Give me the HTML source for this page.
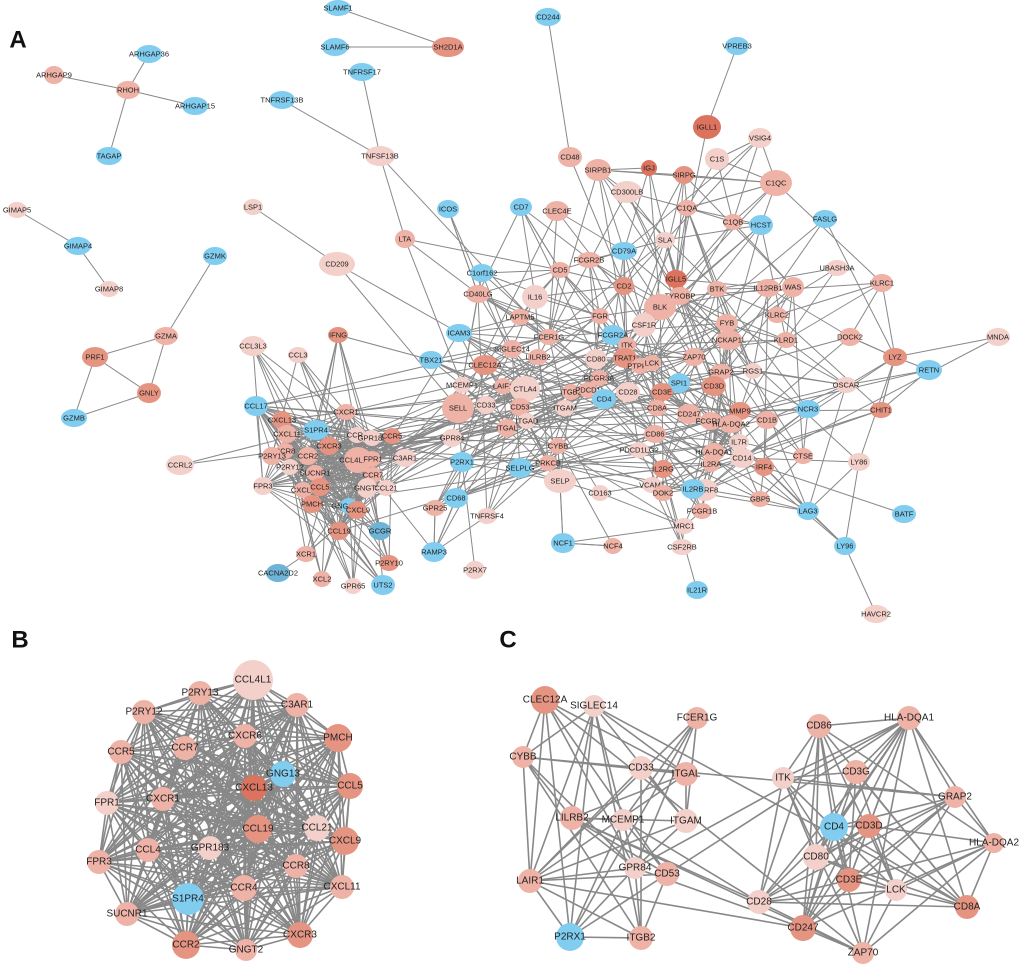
<!DOCTYPE html>
<html><head><meta charset="utf-8"><style>
body{margin:0;background:#fff}
svg{display:block}
text{font-family:"Liberation Sans",sans-serif;text-anchor:middle;dominant-baseline:central;fill:#222}
#A text{font-size:7.5px}
#B text,#C text{font-size:10px}
.l{fill:#f3d0c9}.p{fill:#eeb2a6}.m{fill:#e69482}.d{fill:#dc735f}.b{fill:#80cdf0}.g{fill:#6fb3d6}
.big{font-size:24px;font-weight:bold;fill:#111}
</style></head><body>
<svg width="1020" height="968" viewBox="0 0 1020 968" xmlns="http://www.w3.org/2000/svg">
<g id="edges" stroke="#888" fill="none"></g>
<text x="18" y="40" class="big">A</text>
<text x="20" y="640" class="big">B</text>
<text x="508" y="640" class="big">C</text>
<g id="A">
<g><ellipse cx="128" cy="90" rx="12" ry="9" class="p"/><text x="128" y="90">RHOH</text></g>
<g><ellipse cx="149" cy="54" rx="13" ry="9" class="b"/><text x="149" y="54">ARHGAP36</text></g>
<g><ellipse cx="54" cy="75" rx="10" ry="9" class="p"/><text x="54" y="75">ARHGAP9</text></g>
<g><ellipse cx="195" cy="106" rx="13" ry="9" class="b"/><text x="195" y="106">ARHGAP15</text></g>
<g><ellipse cx="109" cy="156" rx="13" ry="9" class="b"/><text x="109" y="156">TAGAP</text></g>
<g><ellipse cx="17" cy="210" rx="10" ry="8" class="l"/><text x="17" y="210">GIMAP5</text></g>
<g><ellipse cx="78" cy="246" rx="13" ry="9" class="b"/><text x="78" y="246">GIMAP4</text></g>
<g><ellipse cx="109" cy="289" rx="10" ry="8" class="l"/><text x="109" y="289">GIMAP8</text></g>
<g><ellipse cx="215" cy="256" rx="12" ry="9" class="b"/><text x="215" y="256">GZMK</text></g>
<g><ellipse cx="166" cy="336" rx="12" ry="9" class="p"/><text x="166" y="336">GZMA</text></g>
<g><ellipse cx="95" cy="357" rx="13" ry="10" class="m"/><text x="95" y="357">PRF1</text></g>
<g><ellipse cx="149" cy="393" rx="12" ry="10" class="m"/><text x="149" y="393">GNLY</text></g>
<g><ellipse cx="74" cy="418" rx="13" ry="9" class="b"/><text x="74" y="418">GZMB</text></g>
<g><ellipse cx="338" cy="8" rx="13" ry="8" class="b"/><text x="338" y="8">SLAMF1</text></g>
<g><ellipse cx="335" cy="47" rx="13" ry="9" class="b"/><text x="335" y="47">SLAMF6</text></g>
<g><ellipse cx="448" cy="47" rx="16" ry="10" class="m"/><text x="448" y="47">SH2D1A</text></g>
<g><ellipse cx="548" cy="17" rx="13" ry="9" class="b"/><text x="548" y="17">CD244</text></g>
<g><ellipse cx="362" cy="72" rx="13" ry="9" class="b"/><text x="362" y="72">TNFRSF17</text></g>
<g><ellipse cx="282" cy="100" rx="13" ry="9" class="b"/><text x="282" y="100">TNFRSF13B</text></g>
<g><ellipse cx="380" cy="156" rx="15" ry="10" class="l"/><text x="380" y="156">TNFSF13B</text></g>
<g><ellipse cx="253" cy="207" rx="10" ry="8" class="l"/><text x="253" y="207">LSP1</text></g>
<g><ellipse cx="405" cy="239" rx="10" ry="9" class="p"/><text x="405" y="239">LTA</text></g>
<g><ellipse cx="337" cy="264" rx="18" ry="12" class="l"/><text x="337" y="264">CD209</text></g>
<g><ellipse cx="448" cy="209" rx="11" ry="9" class="b"/><text x="448" y="209">ICOS</text></g>
<g><ellipse cx="482" cy="273" rx="12" ry="9" class="b"/><text x="482" y="273">C1orf162</text></g>
<g><ellipse cx="478" cy="294" rx="12" ry="9" class="p"/><text x="478" y="294">CD40LG</text></g>
<g><ellipse cx="459" cy="333" rx="13" ry="9" class="b"/><text x="459" y="333">ICAM3</text></g>
<g><ellipse cx="431" cy="360" rx="12" ry="9" class="b"/><text x="431" y="360">TBX21</text></g>
<g><ellipse cx="521" cy="207" rx="11" ry="9" class="b"/><text x="521" y="207">CD7</text></g>
<g><ellipse cx="557" cy="211" rx="12" ry="10" class="p"/><text x="557" y="211">CLEC4E</text></g>
<g><ellipse cx="737" cy="46" rx="12" ry="9" class="b"/><text x="737" y="46">VPREB3</text></g>
<g><ellipse cx="707" cy="127" rx="14" ry="12" class="d"/><text x="707" y="127">IGLL1</text></g>
<g><ellipse cx="570" cy="157" rx="12" ry="10" class="p"/><text x="570" y="157">CD48</text></g>
<g><ellipse cx="598" cy="170" rx="13" ry="11" class="p"/><text x="598" y="170">SIRPB1</text></g>
<g><ellipse cx="649" cy="168" rx="8" ry="8" class="d"/><text x="649" y="168">IGJ</text></g>
<g><ellipse cx="684" cy="175" rx="10" ry="9" class="m"/><text x="684" y="175">SIRPG</text></g>
<g><ellipse cx="717" cy="159" rx="12" ry="11" class="l"/><text x="717" y="159">C1S</text></g>
<g><ellipse cx="760" cy="138" rx="12" ry="10" class="l"/><text x="760" y="138">VSIG4</text></g>
<g><ellipse cx="776" cy="183" rx="16" ry="13" class="p"/><text x="776" y="183">C1QC</text></g>
<g><ellipse cx="627" cy="192" rx="15" ry="11" class="l"/><text x="627" y="192">CD300LB</text></g>
<g><ellipse cx="687" cy="208" rx="10" ry="8" class="p"/><text x="687" y="208">C1QA</text></g>
<g><ellipse cx="733" cy="222" rx="10" ry="8" class="p"/><text x="733" y="222">C1QB</text></g>
<g><ellipse cx="761" cy="225" rx="12" ry="10" class="b"/><text x="761" y="225">HCST</text></g>
<g><ellipse cx="825" cy="219" rx="12" ry="9" class="b"/><text x="825" y="219">FASLG</text></g>
<g><ellipse cx="665" cy="240" rx="10" ry="8" class="l"/><text x="665" y="240">SLA</text></g>
<g><ellipse cx="624" cy="251" rx="13" ry="9" class="b"/><text x="624" y="251">CD79A</text></g>
<g><ellipse cx="589" cy="260" rx="12" ry="8" class="p"/><text x="589" y="260">FCGR2B</text></g>
<g><ellipse cx="560" cy="270" rx="10" ry="8" class="p"/><text x="560" y="270">CD5</text></g>
<g><ellipse cx="535" cy="297" rx="13" ry="12" class="l"/><text x="535" y="297">IL16</text></g>
<g><ellipse cx="624" cy="286" rx="10" ry="9" class="m"/><text x="624" y="286">CD2</text></g>
<g><ellipse cx="676" cy="279" rx="11" ry="9" class="d"/><text x="676" y="279">IGLL5</text></g>
<g><ellipse cx="680" cy="296" rx="11" ry="9" class="p"/><text x="680" y="296">TYROBP</text></g>
<g><ellipse cx="660" cy="307" rx="16" ry="13" class="p"/><text x="660" y="307">BLK</text></g>
<g><ellipse cx="717" cy="289" rx="10" ry="8" class="p"/><text x="717" y="289">BTK</text></g>
<g><ellipse cx="768" cy="288" rx="12" ry="9" class="p"/><text x="768" y="288">IL12RB1</text></g>
<g><ellipse cx="793" cy="287" rx="11" ry="10" class="p"/><text x="793" y="287">WAS</text></g>
<g><ellipse cx="837" cy="268" rx="11" ry="8" class="l"/><text x="837" y="268">UBASH3A</text></g>
<g><ellipse cx="882" cy="283" rx="11" ry="9" class="p"/><text x="882" y="283">KLRC1</text></g>
<g><ellipse cx="727" cy="323" rx="11" ry="9" class="p"/><text x="727" y="323">FYB</text></g>
<g><ellipse cx="777" cy="315" rx="10" ry="8" class="p"/><text x="777" y="315">KLRC2</text></g>
<g><ellipse cx="729" cy="340" rx="13" ry="10" class="p"/><text x="729" y="340">NCKAP1L</text></g>
<g><ellipse cx="786" cy="340" rx="10" ry="8" class="p"/><text x="786" y="340">KLRD1</text></g>
<g><ellipse cx="850" cy="337" rx="11" ry="9" class="p"/><text x="850" y="337">DOCK2</text></g>
<g><ellipse cx="998" cy="337" rx="12" ry="9" class="l"/><text x="998" y="337">MNDA</text></g>
<g><ellipse cx="895" cy="357" rx="12" ry="9" class="m"/><text x="895" y="357">LYZ</text></g>
<g><ellipse cx="929" cy="370" rx="13" ry="10" class="b"/><text x="929" y="370">RETN</text></g>
<g><ellipse cx="846" cy="385" rx="11" ry="8" class="l"/><text x="846" y="385">OSCAR</text></g>
<g><ellipse cx="881" cy="410" rx="11" ry="8" class="m"/><text x="881" y="410">CHIT1</text></g>
<g><ellipse cx="767" cy="420" rx="11" ry="9" class="p"/><text x="767" y="420">CD1B</text></g>
<g><ellipse cx="808" cy="409" rx="12" ry="9" class="b"/><text x="808" y="409">NCR3</text></g>
<g><ellipse cx="740" cy="411" rx="11" ry="9" class="m"/><text x="740" y="411">MMP9</text></g>
<g><ellipse cx="803" cy="456" rx="10" ry="8" class="p"/><text x="803" y="456">CTSE</text></g>
<g><ellipse cx="739" cy="442" rx="10" ry="8" class="l"/><text x="739" y="442">IL7R</text></g>
<g><ellipse cx="742" cy="458" rx="12" ry="10" class="l"/><text x="742" y="458">CD14</text></g>
<g><ellipse cx="764" cy="467" rx="10" ry="9" class="m"/><text x="764" y="467">IRF4</text></g>
<g><ellipse cx="760" cy="499" rx="10" ry="8" class="p"/><text x="760" y="499">GBP5</text></g>
<g><ellipse cx="859" cy="462" rx="11" ry="9" class="l"/><text x="859" y="462">LY86</text></g>
<g><ellipse cx="808" cy="511" rx="11" ry="9" class="b"/><text x="808" y="511">LAG3</text></g>
<g><ellipse cx="904" cy="514" rx="12" ry="9" class="b"/><text x="904" y="514">BATF</text></g>
<g><ellipse cx="845" cy="546" rx="11" ry="9" class="b"/><text x="845" y="546">LY96</text></g>
<g><ellipse cx="876" cy="614" rx="13" ry="9" class="l"/><text x="876" y="614">HAVCR2</text></g>
<g><ellipse cx="520" cy="317" rx="10" ry="8" class="p"/><text x="520" y="317">LAPTM5</text></g>
<g><ellipse cx="600" cy="316" rx="9" ry="8" class="p"/><text x="600" y="316">FGR</text></g>
<g><ellipse cx="644" cy="325" rx="12" ry="12" class="l"/><text x="644" y="325">CSF1R</text></g>
<g><ellipse cx="613" cy="335" rx="12" ry="10" class="b"/><text x="613" y="335">FCGR2A</text></g>
<g><ellipse cx="549" cy="337" rx="10" ry="8" class="p"/><text x="549" y="337">FCER1G</text></g>
<g><ellipse cx="627" cy="345" rx="9" ry="8" class="p"/><text x="627" y="345">ITK</text></g>
<g><ellipse cx="512" cy="349" rx="10" ry="9" class="p"/><text x="512" y="349">SIGLEC14</text></g>
<g><ellipse cx="538" cy="357" rx="10" ry="8" class="p"/><text x="538" y="357">LILRB2</text></g>
<g><ellipse cx="485" cy="365" rx="13" ry="10" class="m"/><text x="485" y="365">CLEC12A</text></g>
<g><ellipse cx="625" cy="358" rx="12" ry="10" class="m"/><text x="625" y="358">TRAT1</text></g>
<g><ellipse cx="596" cy="359" rx="11" ry="10" class="l"/><text x="596" y="359">CD80</text></g>
<g><ellipse cx="694" cy="357" rx="11" ry="9" class="p"/><text x="694" y="357">ZAP70</text></g>
<g><ellipse cx="640" cy="366" rx="9" ry="8" class="p"/><text x="640" y="366">PTPRC</text></g>
<g><ellipse cx="652" cy="363" rx="9" ry="8" class="p"/><text x="652" y="363">LCK</text></g>
<g><ellipse cx="721" cy="372" rx="11" ry="8" class="p"/><text x="721" y="372">GRAP2</text></g>
<g><ellipse cx="753" cy="371" rx="9" ry="8" class="l"/><text x="753" y="371">RGS1</text></g>
<g><ellipse cx="679" cy="383" rx="11" ry="10" class="b"/><text x="679" y="383">SPI1</text></g>
<g><ellipse cx="714" cy="386" rx="12" ry="10" class="m"/><text x="714" y="386">CD3D</text></g>
<g><ellipse cx="462" cy="385" rx="9" ry="8" class="l"/><text x="462" y="385">MCEMP1</text></g>
<g><ellipse cx="503" cy="386" rx="9" ry="8" class="p"/><text x="503" y="386">LAIF1</text></g>
<g><ellipse cx="525" cy="389" rx="15" ry="13" class="l"/><text x="525" y="389">CTLA4</text></g>
<g><ellipse cx="599" cy="378" rx="9" ry="8" class="p"/><text x="599" y="378">FCGR3A</text></g>
<g><ellipse cx="571" cy="392" rx="9" ry="8" class="p"/><text x="571" y="392">ITGB2</text></g>
<g><ellipse cx="588" cy="390" rx="9" ry="8" class="p"/><text x="588" y="390">PDCD1</text></g>
<g><ellipse cx="628" cy="392" rx="12" ry="10" class="l"/><text x="628" y="392">CD28</text></g>
<g><ellipse cx="662" cy="392" rx="11" ry="9" class="m"/><text x="662" y="392">CD3E</text></g>
<g><ellipse cx="604" cy="399" rx="12" ry="10" class="b"/><text x="604" y="399">CD4</text></g>
<g><ellipse cx="458" cy="408" rx="16" ry="15" class="p"/><text x="458" y="408">SELL</text></g>
<g><ellipse cx="486" cy="405" rx="10" ry="9" class="l"/><text x="486" y="405">CD33</text></g>
<g><ellipse cx="520" cy="407" rx="10" ry="9" class="p"/><text x="520" y="407">CD53</text></g>
<g><ellipse cx="565" cy="408" rx="10" ry="8" class="l"/><text x="565" y="408">ITGAM</text></g>
<g><ellipse cx="657" cy="408" rx="10" ry="8" class="p"/><text x="657" y="408">CD8A</text></g>
<g><ellipse cx="689" cy="414" rx="12" ry="10" class="p"/><text x="689" y="414">CD247</text></g>
<g><ellipse cx="711" cy="421" rx="11" ry="9" class="p"/><text x="711" y="421">FCGR1A</text></g>
<g><ellipse cx="731" cy="424" rx="12" ry="9" class="p"/><text x="731" y="424">HLA-DQA2</text></g>
<g><ellipse cx="527" cy="421" rx="9" ry="8" class="l"/><text x="527" y="421">ITGAD</text></g>
<g><ellipse cx="507" cy="428" rx="10" ry="9" class="p"/><text x="507" y="428">ITGAL</text></g>
<g><ellipse cx="655" cy="434" rx="11" ry="9" class="p"/><text x="655" y="434">CD86</text></g>
<g><ellipse cx="452" cy="438" rx="10" ry="9" class="l"/><text x="452" y="438">GPR84</text></g>
<g><ellipse cx="462" cy="462" rx="12" ry="10" class="b"/><text x="462" y="462">P2RX1</text></g>
<g><ellipse cx="639" cy="450" rx="10" ry="8" class="l"/><text x="639" y="450">PDCD1LG2</text></g>
<g><ellipse cx="714" cy="452" rx="11" ry="9" class="p"/><text x="714" y="452">HLA-DQA1</text></g>
<g><ellipse cx="711" cy="464" rx="9" ry="8" class="p"/><text x="711" y="464">IL2RA</text></g>
<g><ellipse cx="558" cy="446" rx="9" ry="8" class="p"/><text x="558" y="446">CYBB</text></g>
<g><ellipse cx="520" cy="468" rx="12" ry="10" class="b"/><text x="520" y="468">SELPLG</text></g>
<g><ellipse cx="548" cy="463" rx="9" ry="8" class="p"/><text x="548" y="463">PRKCB</text></g>
<g><ellipse cx="560" cy="481" rx="16" ry="12" class="l"/><text x="560" y="481">SELP</text></g>
<g><ellipse cx="663" cy="469" rx="10" ry="9" class="m"/><text x="663" y="469">IL2RG</text></g>
<g><ellipse cx="652" cy="485" rx="10" ry="8" class="l"/><text x="652" y="485">VCAM1</text></g>
<g><ellipse cx="600" cy="493" rx="9" ry="8" class="l"/><text x="600" y="493">CD163</text></g>
<g><ellipse cx="705" cy="490" rx="13" ry="11" class="l"/><text x="710" y="490">IRF8</text></g>
<g><ellipse cx="693" cy="489" rx="12" ry="10" class="b"/><text x="693" y="489">IL2RB</text></g>
<g><ellipse cx="663" cy="493" rx="10" ry="8" class="p"/><text x="663" y="493">DOK2</text></g>
<g><ellipse cx="702" cy="511" rx="10" ry="8" class="p"/><text x="702" y="511">FCGR1B</text></g>
<g><ellipse cx="684" cy="526" rx="10" ry="8" class="l"/><text x="684" y="526">MRC1</text></g>
<g><ellipse cx="682" cy="547" rx="11" ry="8" class="l"/><text x="682" y="547">CSF2RB</text></g>
<g><ellipse cx="563" cy="543" rx="12" ry="10" class="b"/><text x="563" y="543">NCF1</text></g>
<g><ellipse cx="613" cy="546" rx="9" ry="8" class="p"/><text x="613" y="546">NCF4</text></g>
<g><ellipse cx="697" cy="590" rx="11" ry="9" class="b"/><text x="697" y="590">IL21R</text></g>
<g><ellipse cx="456" cy="498" rx="12" ry="10" class="b"/><text x="456" y="498">CD68</text></g>
<g><ellipse cx="487" cy="516" rx="10" ry="8" class="l"/><text x="487" y="516">TNFRSF4</text></g>
<g><ellipse cx="435" cy="508" rx="10" ry="8" class="p"/><text x="435" y="508">GPR25</text></g>
<g><ellipse cx="434" cy="552" rx="12" ry="10" class="b"/><text x="434" y="552">RAMP3</text></g>
<g><ellipse cx="475" cy="570" rx="10" ry="9" class="l"/><text x="475" y="570">P2RX7</text></g>
<g><ellipse cx="253" cy="346" rx="13" ry="10" class="l"/><text x="253" y="346">CCL3L3</text></g>
<g><ellipse cx="298" cy="355" rx="10" ry="8" class="l"/><text x="298" y="355">CCL3</text></g>
<g><ellipse cx="338" cy="335" rx="10" ry="8" class="m"/><text x="338" y="335">IFNG</text></g>
<g><ellipse cx="256" cy="406" rx="12" ry="10" class="b"/><text x="256" y="406">CCL17</text></g>
<g><ellipse cx="282" cy="420" rx="10" ry="9" class="m"/><text x="282" y="420">CXCL13</text></g>
<g><ellipse cx="346" cy="412" rx="10" ry="8" class="p"/><text x="346" y="412">CXCR1</text></g>
<g><ellipse cx="287" cy="434" rx="10" ry="9" class="p"/><text x="287" y="434">CXCL11</text></g>
<g><ellipse cx="316" cy="430" rx="13" ry="10" class="b"/><text x="316" y="430">S1PR4</text></g>
<g><ellipse cx="357" cy="435" rx="9" ry="8" class="l"/><text x="357" y="435">CCR4</text></g>
<g><ellipse cx="372" cy="438" rx="9" ry="8" class="l"/><text x="372" y="438">GPR183</text></g>
<g><ellipse cx="392" cy="436" rx="9" ry="8" class="m"/><text x="392" y="436">CCR5</text></g>
<g><ellipse cx="329" cy="446" rx="10" ry="9" class="m"/><text x="329" y="446">CXCR3</text></g>
<g><ellipse cx="285" cy="451" rx="9" ry="8" class="p"/><text x="285" y="451">CCR8</text></g>
<g><ellipse cx="272" cy="456" rx="10" ry="9" class="p"/><text x="272" y="456">P2RY13</text></g>
<g><ellipse cx="308" cy="456" rx="10" ry="9" class="p"/><text x="308" y="456">CCR2</text></g>
<g><ellipse cx="358" cy="460" rx="14" ry="13" class="p"/><text x="353" y="460">CCL4L1</text></g>
<g><ellipse cx="372" cy="459" rx="9" ry="8" class="p"/><text x="373" y="459">FPR1</text></g>
<g><ellipse cx="405" cy="458" rx="11" ry="9" class="l"/><text x="405" y="458">C3AR1</text></g>
<g><ellipse cx="290" cy="467" rx="9" ry="8" class="l"/><text x="290" y="467">P2RY12</text></g>
<g><ellipse cx="315" cy="473" rx="9" ry="8" class="p"/><text x="315" y="473">SUCNR1</text></g>
<g><ellipse cx="373" cy="475" rx="9" ry="8" class="p"/><text x="373" y="475">CCR7</text></g>
<g><ellipse cx="263" cy="486" rx="10" ry="9" class="l"/><text x="263" y="486">FPR3</text></g>
<g><ellipse cx="303" cy="490" rx="9" ry="8" class="p"/><text x="303" y="490">CXCL4</text></g>
<g><ellipse cx="320" cy="487" rx="10" ry="9" class="m"/><text x="320" y="487">CCL5</text></g>
<g><ellipse cx="367" cy="488" rx="10" ry="10" class="l"/><text x="367" y="488">GNGT2</text></g>
<g><ellipse cx="386" cy="488" rx="9" ry="8" class="l"/><text x="386" y="488">CCL21</text></g>
<g><ellipse cx="312" cy="504" rx="10" ry="9" class="m"/><text x="312" y="504">PMCH</text></g>
<g><ellipse cx="349" cy="506" rx="9" ry="8" class="b"/><text x="344" y="506">GNG13</text></g>
<g><ellipse cx="357" cy="510" rx="10" ry="9" class="m"/><text x="358" y="510">CXCL9</text></g>
<g><ellipse cx="339" cy="531" rx="10" ry="9" class="m"/><text x="339" y="531">CCL19</text></g>
<g><ellipse cx="380" cy="531" rx="11" ry="9" class="g"/><text x="380" y="531">GCGR</text></g>
<g><ellipse cx="306" cy="554" rx="10" ry="8" class="p"/><text x="306" y="554">XCR1</text></g>
<g><ellipse cx="389" cy="563" rx="10" ry="8" class="m"/><text x="389" y="563">P2RY10</text></g>
<g><ellipse cx="278" cy="573" rx="12" ry="9" class="g"/><text x="278" y="573">CACNA2D2</text></g>
<g><ellipse cx="322" cy="579" rx="9" ry="8" class="p"/><text x="322" y="579">XCL2</text></g>
<g><ellipse cx="353" cy="586" rx="9" ry="8" class="l"/><text x="353" y="586">GPR65</text></g>
<g><ellipse cx="383" cy="585" rx="12" ry="10" class="b"/><text x="383" y="585">UTS2</text></g>
<g><ellipse cx="180" cy="465" rx="14" ry="10" class="l"/><text x="180" y="465">CCRL2</text></g>
</g>
<g id="B">
<g><circle cx="253" cy="680" r="20" class="l"/><text x="253" y="680">CCL4L1</text></g>
<g><circle cx="200" cy="693" r="12" class="p"/><text x="200" y="693">P2RY13</text></g>
<g><circle cx="297" cy="705" r="12" class="p"/><text x="297" y="705">C3AR1</text></g>
<g><circle cx="144" cy="712" r="12" class="p"/><text x="144" y="712">P2RY12</text></g>
<g><circle cx="338" cy="738" r="14" class="m"/><text x="338" y="738">PMCH</text></g>
<g><circle cx="245" cy="736" r="12" class="p"/><text x="245" y="736">CXCR6</text></g>
<g><circle cx="185" cy="748" r="12" class="p"/><text x="185" y="748">CCR7</text></g>
<g><circle cx="121" cy="752" r="12" class="p"/><text x="121" y="752">CCR5</text></g>
<g><circle cx="283" cy="774" r="13" class="b"/><text x="283" y="774">GNG13</text></g>
<g><circle cx="350" cy="786" r="13" class="m"/><text x="350" y="786">CCL5</text></g>
<g><circle cx="254" cy="788" r="13" class="d"/><text x="254" y="788">CXCL13</text></g>
<g><circle cx="163" cy="799" r="12" class="p"/><text x="163" y="799">CXCR1</text></g>
<g><circle cx="107" cy="803" r="12" class="l"/><text x="107" y="803">FPR1</text></g>
<g><circle cx="317" cy="828" r="13" class="l"/><text x="317" y="828">CCL21</text></g>
<g><circle cx="345" cy="841" r="14" class="m"/><text x="345" y="841">CXCL9</text></g>
<g><circle cx="258" cy="829" r="14" class="m"/><text x="258" y="829">CCL19</text></g>
<g><circle cx="210" cy="848" r="12" class="l"/><text x="210" y="848">GPR183</text></g>
<g><circle cx="148" cy="850" r="12" class="p"/><text x="148" y="850">CCL4</text></g>
<g><circle cx="99" cy="862" r="12" class="p"/><text x="99" y="862">FPR3</text></g>
<g><circle cx="296" cy="866" r="12" class="p"/><text x="296" y="866">CCR8</text></g>
<g><circle cx="342" cy="887" r="12" class="p"/><text x="342" y="887">CXCL11</text></g>
<g><circle cx="188" cy="899" r="16" class="b"/><text x="188" y="899">S1PR4</text></g>
<g><circle cx="244" cy="888" r="13" class="p"/><text x="244" y="888">CCR4</text></g>
<g><circle cx="127" cy="914" r="12" class="p"/><text x="127" y="914">SUCNR1</text></g>
<g><circle cx="300" cy="935" r="13" class="m"/><text x="300" y="935">CXCR3</text></g>
<g><circle cx="186" cy="945" r="14" class="m"/><text x="186" y="945">CCR2</text></g>
<g><circle cx="246" cy="950" r="11" class="p"/><text x="246" y="950">GNGT2</text></g>
</g>
<g id="C">
<g><circle cx="545" cy="700" r="14" class="m"/><text x="545" y="700">CLEC12A</text></g>
<g><circle cx="594" cy="706" r="11" class="l"/><text x="594" y="706">SIGLEC14</text></g>
<g><circle cx="697" cy="718" r="11" class="p"/><text x="697" y="718">FCER1G</text></g>
<g><circle cx="523" cy="757" r="11" class="p"/><text x="523" y="757">CYBB</text></g>
<g><circle cx="641" cy="768" r="12" class="l"/><text x="641" y="768">CD33</text></g>
<g><circle cx="686" cy="774" r="12" class="p"/><text x="686" y="774">ITGAL</text></g>
<g><circle cx="572" cy="818" r="12" class="p"/><text x="572" y="818">LILRB2</text></g>
<g><circle cx="623" cy="820" r="11" class="l"/><text x="623" y="820">MCEMP1</text></g>
<g><circle cx="686" cy="821" r="12" class="l"/><text x="686" y="821">ITGAM</text></g>
<g><circle cx="530" cy="881" r="12" class="p"/><text x="530" y="881">LAIR1</text></g>
<g><circle cx="635" cy="868" r="11" class="l"/><text x="635" y="868">GPR84</text></g>
<g><circle cx="667" cy="874" r="12" class="p"/><text x="667" y="874">CD53</text></g>
<g><circle cx="570" cy="937" r="14" class="b"/><text x="570" y="937">P2RX1</text></g>
<g><circle cx="641" cy="938" r="12" class="p"/><text x="641" y="938">ITGB2</text></g>
<g><circle cx="819" cy="726" r="12" class="p"/><text x="819" y="726">CD86</text></g>
<g><circle cx="909" cy="718" r="12" class="p"/><text x="909" y="718">HLA-DQA1</text></g>
<g><circle cx="783" cy="778" r="11" class="l"/><text x="783" y="778">ITK</text></g>
<g><circle cx="856" cy="772" r="12" class="p"/><text x="856" y="772">CD3G</text></g>
<g><circle cx="955" cy="797" r="11" class="p"/><text x="955" y="797">GRAP2</text></g>
<g><circle cx="834" cy="827" r="14" class="b"/><text x="834" y="827">CD4</text></g>
<g><circle cx="869" cy="826" r="12" class="m"/><text x="869" y="826">CD3D</text></g>
<g><circle cx="994" cy="843" r="10" class="p"/><text x="994" y="843">HLA-DQA2</text></g>
<g><circle cx="816" cy="857" r="13" class="l"/><text x="816" y="857">CD80</text></g>
<g><circle cx="849" cy="880" r="12" class="m"/><text x="849" y="880">CD3E</text></g>
<g><circle cx="896" cy="890" r="11" class="l"/><text x="896" y="890">LCK</text></g>
<g><circle cx="967" cy="907" r="12" class="m"/><text x="967" y="907">CD8A</text></g>
<g><circle cx="759" cy="902" r="12" class="l"/><text x="759" y="902">CD28</text></g>
<g><circle cx="803" cy="928" r="13" class="m"/><text x="803" y="928">CD247</text></g>
<g><circle cx="863" cy="953" r="11" class="p"/><text x="863" y="953">ZAP70</text></g>
</g>
</svg>
<script>
(function(){
var NS="http://www.w3.org/2000/svg",E=document.getElementById("edges");
function nodes(id){var r={},a=[];document.querySelectorAll("#"+id+">g").forEach(function(g){var s=g.firstElementChild,t=g.lastElementChild.textContent;var o={n:t,x:+(s.getAttribute("cx")),y:+(s.getAttribute("cy"))};r[t]=o;a.push(o);});return {m:r,a:a};}
var seed=7;function rnd(){seed=(seed*16807)%2147483647;return seed/2147483647;}
function L(a,b,w){var l=document.createElementNS(NS,"line");l.setAttribute("x1",a.x);l.setAttribute("y1",a.y);l.setAttribute("x2",b.x);l.setAttribute("y2",b.y);l.setAttribute("stroke-width",w);E.appendChild(l);}
var A=nodes("A"),m=A.m;
var ex=[["RHOH","ARHGAP36"],["RHOH","ARHGAP9"],["RHOH","ARHGAP15"],["RHOH","TAGAP"],["GIMAP5","GIMAP4"],["GIMAP4","GIMAP8"],["GZMK","GZMA"],["GZMA","PRF1"],["GZMA","GNLY"],["PRF1","GNLY"],["PRF1","GZMB"],["GNLY","GZMB"],["SLAMF1","SH2D1A"],["SLAMF6","SH2D1A"],["CD244","CD48"],["TNFRSF17","TNFSF13B"],["TNFRSF13B","TNFSF13B"],["TNFSF13B","LTA"],["TNFSF13B","FCER1G"],["LSP1","CD209"],["CD209","ICAM3"],["VPREB3","IGLL1"],["IGLL1","IGLL5"],["CD48","CD2"],["ICOS","CD40LG"],["ICOS","CTLA4"],["CD7","CD5"],["CD7","CD2"],["CLEC4E","FCER1G"],["CLEC4E","SELL"],["SIRPB1","TYROBP"],["SIRPB1","FCER1G"],["CD300LB","TYROBP"],["CD300LB","FCER1G"],["IGJ","IGLL5"],["SIRPG","CD2"],["C1S","C1QA"],["C1S","C1QB"],["C1S","C1QC"],["VSIG4","C1QB"],["VSIG4","C1QC"],["C1QC","C1QA"],["C1QC","C1QB"],["C1QA","C1QB"],["C1QA","TYROBP"],["C1QB","CSF1R"],["HCST","TYROBP"],["HCST","KLRD1"],["FASLG","CD247"],["FASLG","LCK"],["UBASH3A","ZAP70"],["KLRC1","KLRD1"],["KLRC1","TYROBP"],["KLRC1","KLRC2"],["MNDA","LYZ"],["MNDA","IRF8"],["LYZ","RETN"],["LYZ","CHIT1"],["LYZ","CD14"],["LYZ","DOCK2"],["RETN","CHIT1"],["RETN","OSCAR"],["OSCAR","FCER1G"],["OSCAR","TYROBP"],["CHIT1","MMP9"],["LAG3","CD4"],["LAG3","LY96"],["LY96","LY86"],["LY96","CD14"],["LY96","HAVCR2"],["BATF","IRF4"],["LY86","CD14"],["LY86","TYROBP"],["IL21R","IL2RG"],["CCRL2","CCR5"],["CCRL2","S1PR4"],["CACNA2D2","XCR1"],["P2RX7","P2RX1"],["TNFRSF4","CD28"],["C1orf162","SELL"],["ICAM3","ITGAL"],["ICAM3","ITGB2"],["TBX21","IFNG"],["TBX21","CLEC12A"],["LTA","CD40LG"],["CD209","SELL"],["CSF2RB","IL2RG"],["MRC1","CD163"],["NCF4","CYBB"],["NCF1","CYBB"],["NCF4","NCF1"],["NCF1","SELP"],["RAMP3","GPR25"],["RAMP3","CCR7"],["RAMP3","CD68"],["GPR25","CD68"],["CD68","FCGR1A"]];
ex.forEach(function(e){if(m[e[0]]&&m[e[1]])L(m[e[0]],m[e[1]],1);});
var leftN=["CCL3L3","CCL3","IFNG","CCL17","CXCL13","CXCR1","CXCL11","S1PR4","CCR4","GPR183","CCR5","CXCR3","CCR8","P2RY13","CCR2","CCL4L1","FPR1","C3AR1","P2RY12","SUCNR1","CCR7","FPR3","CXCL4","CCL5","GNGT2","CCL21","PMCH","GNG13","CXCL9","CCL19","GCGR","XCR1","P2RY10","XCL2","GPR65","UTS2"];
var core=["CCL17","CXCL13","CXCR1","CXCL11","S1PR4","CCR4","GPR183","CCR5","CXCR3","CCR8","P2RY13","CCR2","CCL4L1","FPR1","C3AR1","P2RY12","SUCNR1","CCR7","FPR3","CXCL4","CCL5","GNGT2","CCL21","PMCH","GNG13","CXCL9","CCL19"];
for(var i=0;i<core.length;i++)for(var j=i+1;j<core.length;j++)if(rnd()<0.8)L(m[core[i]],m[core[j]],0.9);
var per=["CCL3L3","CCL3","IFNG","GCGR","XCR1","P2RY10","XCL2","GPR65","UTS2"];
per.forEach(function(p){for(var k=0;k<6;k++)L(m[p],m[core[Math.floor(rnd()*core.length)]],1);});
var skip={};["RHOH","ARHGAP36","ARHGAP9","ARHGAP15","TAGAP","GIMAP5","GIMAP4","GIMAP8","GZMK","GZMA","PRF1","GNLY","GZMB","SLAMF1","SLAMF6","SH2D1A","CD244","TNFRSF17","TNFRSF13B","TNFSF13B","LSP1","CD209","VPREB3","IGLL1","CD48","HAVCR2","IL21R","P2RX7","CACNA2D2","CCRL2","MNDA","BATF"].concat(leftN).forEach(function(n){skip[n]=1;});
var mid=A.a.filter(function(o){return !skip[o.n];});
for(var i=0;i<mid.length;i++)for(var j=i+1;j<mid.length;j++){var a=mid[i],b=mid[j],d=Math.hypot(a.x-b.x,a.y-b.y);var p=d<50?0.4:d<100?0.2:d<180?0.06:d<260?0.015:0;if(rnd()<p)L(a,b,1);}
var midCore=mid.filter(function(o){return o.x>440&&o.x<760&&o.y>310&&o.y<470;});
for(var k=0;k<45;k++)L(m[core[Math.floor(rnd()*core.length)]],midCore[Math.floor(rnd()*midCore.length)],1);
var B=nodes("B").a;
for(var i=0;i<B.length;i++)for(var j=i+1;j<B.length;j++)if(rnd()<0.92)L(B[i],B[j],1.6);
var C=nodes("C").a;
for(var i=0;i<C.length;i++)for(var j=i+1;j<C.length;j++){var s1=i<14,s2=j<14;var p=(s1==s2)?0.62:0.05;if(rnd()<p)L(C[i],C[j],1.6);}
})();
</script>
</body></html>
